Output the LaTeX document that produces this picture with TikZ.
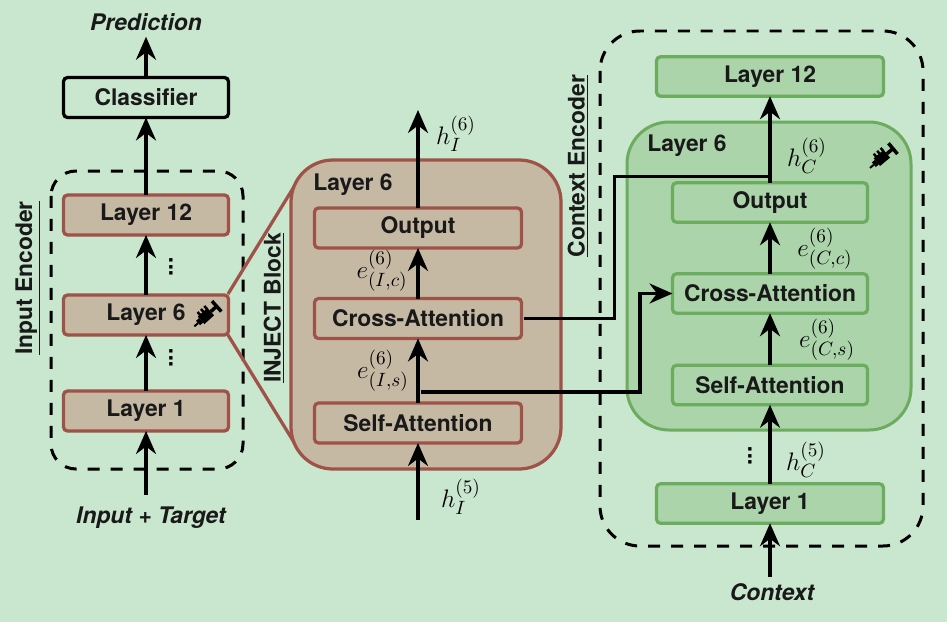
\documentclass[tikz,border=0pt]{standalone}
\usepackage{fontspec}
\setmainfont{TeX Gyre Heros}
\usetikzlibrary{arrows.meta}
\usetikzlibrary{calc}
\tikzset{>={Stealth[length=0.46cm,width=0.4cm]}}
\definecolor{bgcol}{HTML}{C9E6CE}
\definecolor{tancol}{HTML}{C5B9A4}
\definecolor{browncol}{HTML}{9E5248}
\definecolor{leafcol}{HTML}{ABD4AA}
\definecolor{greencol}{HTML}{6CAC5E}
\tikzstyle{box}=[rectangle,rounded corners=0.08cm,line width=0.065cm,outer sep=0,inner sep=0,
  font=\fontsize{13}{15}\bfseries\selectfont,text=black!90]
\tikzstyle{inject}=[box,draw=browncol,fill=tancol,minimum width=3.3cm,minimum height=0.8cm]
\tikzstyle{injectwide}=[inject,minimum width=4.14cm]
\tikzstyle{ctx}=[box,draw=greencol,fill=leafcol,minimum width=3.9cm,minimum height=0.79cm]
\tikzstyle{ctxwide}=[ctx,minimum width=4.54cm]
\tikzstyle{flow}=[->,black,line width=0.066cm]
\tikzstyle{wire}=[black,line width=0.06cm]
\tikzstyle{encoder}=[black,line width=0.06cm,dash pattern=on 0.24cm off 0.22cm]
\tikzstyle{caption}=[font=\fontsize{13}{15}\bfseries\selectfont,text=black!90]
\tikzstyle{outer}=[font=\fontsize{13}{15}\bfseries\itshape\selectfont,text=black!90]
\tikzstyle{state}=[font=\fontsize{15.5}{18}\selectfont,inner sep=0]
\tikzstyle{vdots}=[font=\fontsize{13}{15}\bfseries\selectfont,inner sep=0,rotate=90]
\tikzset{syringe/.pic={
    \fill[black] (-8,-5) rectangle (5,5);
    \fill[black] (-12,-3) rectangle (-8,3);
    \draw[black,line width=0.04cm] (-17,0) -- (-12,0);
    \foreach \s in {-5,-0.5,4} {\draw[black,line width=0.05cm] (\s,-4) -- (\s,-8.5);}
    \draw[black,line width=0.07cm] (5,0) -- (13,0);
    \draw[black,line width=0.07cm] (13,-7) -- (13,7);
}}

\begin{document}
\begin{tikzpicture}[x=0.02cm,y=-0.02cm]
  \useasboundingbox (0,0) rectangle (947,622);
  \fill[bgcol] (0,0) rectangle (947,622);

  % dashed encoder outlines
  \draw[encoder,rounded corners=0.5cm] (51,171) rectangle (243,469);
  \draw[encoder,rounded corners=0.8cm] (600,31) rectangle (923,546);

  % funnel from layer 6 out to the block
  \coordinate (funtop) at (300,177);
  \coordinate (funbot) at (300,452);
  \draw[browncol,line width=0.065cm] (228,294) -- (funtop);
  \draw[browncol,line width=0.065cm] (228,335) -- (funbot);

  % large blocks
  \draw[browncol,fill=tancol,line width=0.065cm,rounded corners=0.84cm] (291,160) rectangle (561,469);
  \draw[greencol,fill=leafcol,line width=0.06cm,rounded corners=0.84cm] (627,122) rectangle (911,430);

  % input encoder
  \node[inject,draw=black,fill=bgcol] (classifier) at (146,97.5) {Classifier};
  \node[inject] (in12) at (146,215) {Layer 12};
  \node[inject] (in6) at (146,315) {Layer 6\hspace{0.5cm}};
  \node[inject] (in1) at (146,411) {Layer 1};
  \pic[rotate=42] at (207,315) {syringe};

  \node[outer] (pred) at (146,22) {Prediction};
  \node[outer] (inp) at (151,518) {Input + Target};
  \draw[flow] (146,495) -- (in1.south);
  \draw[flow] (in1.north) -- (in6.south);
  \draw[flow] (in6.north) -- (in12.south);
  \draw[flow] (in12.north) -- (classifier.south);
  \draw[flow] (classifier.north) -- (pred.south);
  \node[vdots] (dotsa) at (171,267) {...};
  \node[vdots] (dotsb) at (171,358) {...};
  \node[caption,rotate=90] (inlabel) at (28,278) {\underline{Input Encoder}};

  % inject block
  \node[injectwide] (self) at (418,423) {Self-Attention};
  \node[injectwide] (cross) at (418,318.5) {Cross-Attention};
  \node[injectwide] (out) at (418,228) {Output};
  \node[caption] (blocklayer) at (353,185) {Layer 6};
  \node[caption,rotate=90] (blocklabel) at (274,308) {\underline{INJECT Block}};
  \coordinate (inhin) at (418,520);
  \coordinate (inhout) at (418,110);
  \draw[flow] (inhin) -- (self.south);
  \draw[flow] (self.north) -- (cross.south);
  \draw[flow] (cross.north) -- (out.south);
  \draw[flow] (out.north) -- (inhout);
  \node[state] (hfive) at (461,497) {$h_I^{(5)}$};
  \node[state] (hsix) at (456,134) {$h_I^{(6)}$};
  \node[state] (ec) at (382,271) {$\displaystyle e_{(I,c)}^{(6)}$};
  \node[state] (es) at (383,371) {$\displaystyle e_{(I,s)}^{(6)}$};

  % context encoder
  \node[ctxwide] (ctx12) at (770,76.5) {Layer 12};
  \node[ctx] (cout) at (770,202.5) {Output};
  \node[ctx] (ccross) at (770,293.5) {Cross-Attention};
  \node[ctx] (cself) at (770,385) {Self-Attention};
  \node[ctxwide] (ctx1) at (770,503.5) {Layer 1};
  \node[caption] (ctxlayer) at (687,146) {Layer 6};
  \node[caption,rotate=90] (ctxlabel) at (578,166) {\underline{Context Encoder}};
  \node[outer] (ctxin) at (772,592) {Context};
  \draw[flow] (ctxin.north -| ctx1.south) -- (ctx1.south);
  \draw[flow] (ctx1.north) -- (cself.south);
  \draw[flow] (cself.north) -- (ccross.south);
  \draw[flow] (ccross.north) -- (cout.south);
  \draw[flow] (cout.north) -- (ctx12.south);
  \node[state] (chsix) at (807,156) {$h_C^{(6)}$};
  \node[state] (ccc) at (825,249) {$\displaystyle e_{(C,c)}^{(6)}$};
  \node[state] (ccs) at (827,340) {$\displaystyle e_{(C,s)}^{(6)}$};
  \node[state] (chfive) at (806,460) {$h_C^{(5)}$};
  \node[vdots] (dotsc) at (750,456) {...};
  \pic[rotate=40] at (883,157) {syringe};

  % cross connections between the encoders
  \coordinate (selftap) at (421,392);
  \coordinate (outtap) at (770,176);
  \draw[wire] (cross.east) ++(3,0) -- (614,318.5) -- (614,176) -- (outtap);
  \draw[flow] (selftap) -- (640,392) |- (ccross.west);
\end{tikzpicture}
\end{document}
